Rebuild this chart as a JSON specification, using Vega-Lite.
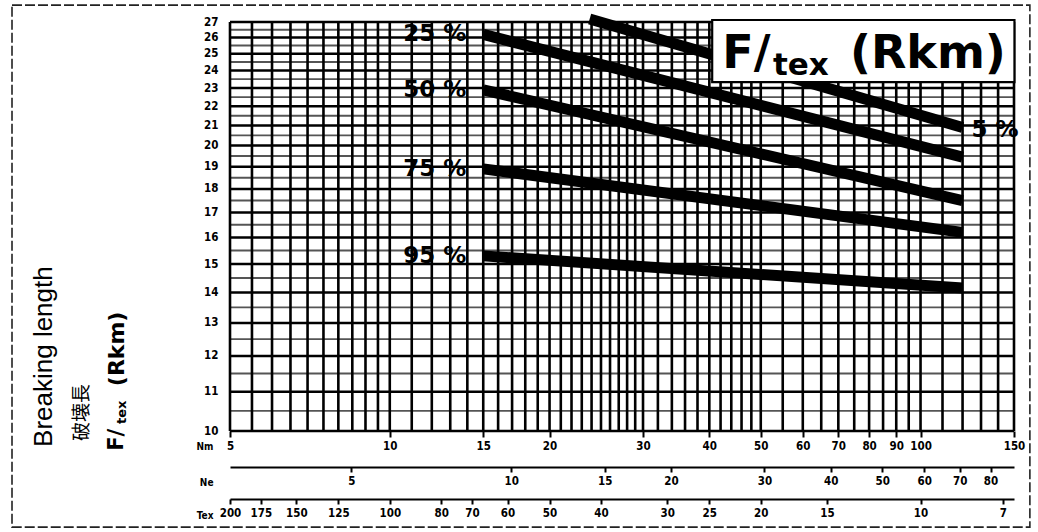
{
  "$schema": "https://vega.github.io/schema/vega-lite/v6.json",
  "width": 784,
  "height": 409,
  "autosize": {"type": "none"},
  "padding": {"left": 230, "top": 22, "right": 24, "bottom": 101},
  "background": "white",
  "config": {
    "view": {"stroke": null},
    "font": "Liberation Sans",
    "axis": {
      "labelFont": "DejaVu Sans Condensed, Liberation Sans Narrow, Liberation Sans",
      "labelFontSize": 11.5,
      "labelFontWeight": "bold",
      "labelColor": "black",
      "titleFont": "DejaVu Sans Condensed, Liberation Sans Narrow, Liberation Sans",
      "titleFontSize": 10,
      "titleFontWeight": "bold",
      "titleColor": "black"
    }
  },
  "datasets": {
    "vgrid": [
      {"Nm": 5}, {"Nm": 5.5}, {"Nm": 6}, {"Nm": 6.5}, {"Nm": 7}, {"Nm": 7.5}, {"Nm": 8}, {"Nm": 8.5}, {"Nm": 9}, {"Nm": 9.5},
      {"Nm": 10}, {"Nm": 11}, {"Nm": 12}, {"Nm": 13}, {"Nm": 14}, {"Nm": 15}, {"Nm": 16}, {"Nm": 17}, {"Nm": 18}, {"Nm": 19},
      {"Nm": 20}, {"Nm": 21}, {"Nm": 22}, {"Nm": 23}, {"Nm": 24}, {"Nm": 25}, {"Nm": 26}, {"Nm": 27}, {"Nm": 28}, {"Nm": 29},
      {"Nm": 30}, {"Nm": 32}, {"Nm": 34}, {"Nm": 36}, {"Nm": 38}, {"Nm": 40}, {"Nm": 42}, {"Nm": 44}, {"Nm": 46}, {"Nm": 48},
      {"Nm": 50}, {"Nm": 55}, {"Nm": 60}, {"Nm": 65}, {"Nm": 70}, {"Nm": 75}, {"Nm": 80}, {"Nm": 85}, {"Nm": 90}, {"Nm": 95},
      {"Nm": 100}, {"Nm": 110}, {"Nm": 120}, {"Nm": 130}, {"Nm": 140}, {"Nm": 150}
    ],
    "hmajor": [
      {"F": 10}, {"F": 11}, {"F": 12}, {"F": 13}, {"F": 14}, {"F": 15}, {"F": 16}, {"F": 17}, {"F": 18},
      {"F": 19}, {"F": 20}, {"F": 21}, {"F": 22}, {"F": 23}, {"F": 24}, {"F": 25}, {"F": 26}, {"F": 27}
    ],
    "hminor": [
      {"F": 10.5}, {"F": 11.5}, {"F": 12.5}, {"F": 13.5}, {"F": 14.5}, {"F": 15.5}, {"F": 16.5}, {"F": 17.5},
      {"F": 18.5}, {"F": 19.5}, {"F": 20.5}, {"F": 21.5}, {"F": 22.5}, {"F": 23.5}, {"F": 24.5}, {"F": 25.5}, {"F": 26.5}
    ],
    "curves": [
      {"p": "5 %", "Nm": 23.8, "F": 27.2},
      {"p": "5 %", "Nm": 120, "F": 20.9},
      {"p": "25 %", "Nm": 15, "F": 26.2},
      {"p": "25 %", "Nm": 120, "F": 19.45},
      {"p": "50 %", "Nm": 15, "F": 22.9},
      {"p": "50 %", "Nm": 120, "F": 17.5},
      {"p": "75 %", "Nm": 15, "F": 18.9},
      {"p": "75 %", "Nm": 120, "F": 16.2},
      {"p": "95 %", "Nm": 15, "F": 15.3},
      {"p": "95 %", "Nm": 120, "F": 14.15}
    ],
    "neTicks": [
      {"Ne": 5}, {"Ne": 10}, {"Ne": 15}, {"Ne": 20}, {"Ne": 30}, {"Ne": 40}, {"Ne": 50}, {"Ne": 60}, {"Ne": 70}, {"Ne": 80}
    ],
    "texTicks": [
      {"Tex": 200}, {"Tex": 175}, {"Tex": 150}, {"Tex": 125}, {"Tex": 100}, {"Tex": 80}, {"Tex": 70}, {"Tex": 60},
      {"Tex": 50}, {"Tex": 40}, {"Tex": 30}, {"Tex": 25}, {"Tex": 20}, {"Tex": 15}, {"Tex": 10}, {"Tex": 7}
    ]
  },
  "resolve": {"scale": {"x": "independent"}},
  "layer": [
    {
      "layer": [
        {
          "data": {"name": "hminor"},
          "mark": {"type": "rule", "stroke": "#555", "strokeWidth": 1.9},
          "encoding": {
            "y": {"field": "F", "type": "quantitative", "scale": {"type": "log", "domain": [10, 27], "nice": false},
              "axis": {"orient": "left", "values": [10, 11, 12, 13, 14, 15, 16, 17, 18, 19, 20, 21, 22, 23, 24, 25, 26, 27], "format": "d", "domain": false, "ticks": false, "grid": false, "labelPadding": 12, "labelOverlap": false, "labelFlush": false, "title": null}}
          }
        },
        {
          "data": {"name": "hmajor"},
          "mark": {"type": "rule", "stroke": "black", "strokeWidth": 2.5},
          "encoding": {
            "y": {"field": "F", "type": "quantitative", "scale": {"type": "log", "domain": [10, 27], "nice": false},
              "axis": {"orient": "left", "values": [10, 11, 12, 13, 14, 15, 16, 17, 18, 19, 20, 21, 22, 23, 24, 25, 26, 27], "format": "d", "domain": false, "ticks": false, "grid": false, "labelPadding": 12, "labelOverlap": false, "labelFlush": false, "title": null}}
          }
        },
        {
          "data": {"name": "vgrid"},
          "mark": {"type": "rule", "stroke": "black", "strokeWidth": 2.6},
          "encoding": {
            "x": {"field": "Nm", "type": "quantitative", "scale": {"type": "log", "domain": [5, 150], "nice": false},
              "axis": {"orient": "bottom", "values": [5, 10, 15, 20, 30, 40, 50, 60, 70, 80, 90, 100, 150], "format": "d", "domain": false, "grid": false, "ticks": true, "tickSize": 6, "tickWidth": 2, "tickColor": "black", "labelFlush": false, "labelOverlap": false, "labelPadding": 3, "title": "Nm", "titleAngle": 0, "titleAlign": "right", "titleBaseline": "middle", "titleX": -17, "titleY": 15}}
          }
        },
        {
          "data": {"name": "curves"},
          "mark": {"type": "line", "stroke": "black", "strokeWidth": 11, "strokeCap": "butt", "clip": false},
          "encoding": {
            "x": {"field": "Nm", "type": "quantitative", "scale": {"type": "log", "domain": [5, 150], "nice": false},
              "axis": {"orient": "bottom", "values": [5, 10, 15, 20, 30, 40, 50, 60, 70, 80, 90, 100, 150], "format": "d", "domain": false, "grid": false, "ticks": true, "tickSize": 6, "tickWidth": 2, "tickColor": "black", "labelFlush": false, "labelOverlap": false, "labelPadding": 3, "title": "Nm", "titleAngle": 0, "titleAlign": "right", "titleBaseline": "middle", "titleX": -17, "titleY": 15}},
            "y": {"field": "F", "type": "quantitative", "scale": {"type": "log", "domain": [10, 27], "nice": false},
              "axis": {"orient": "left", "values": [10, 11, 12, 13, 14, 15, 16, 17, 18, 19, 20, 21, 22, 23, 24, 25, 26, 27], "format": "d", "domain": false, "ticks": false, "grid": false, "labelPadding": 12, "labelOverlap": false, "labelFlush": false, "title": null}},
            "detail": {"field": "p"}
          }
        },
        {
          "data": {"name": "curves"},
          "transform": [{"filter": "datum.Nm == 15"}],
          "mark": {"type": "text", "font": "DejaVu Sans", "fontWeight": "bold", "fontSize": 23, "align": "right", "baseline": "middle", "dx": -17, "color": "black"},
          "encoding": {
            "x": {"field": "Nm", "type": "quantitative", "scale": {"type": "log", "domain": [5, 150], "nice": false},
              "axis": {"orient": "bottom", "values": [5, 10, 15, 20, 30, 40, 50, 60, 70, 80, 90, 100, 150], "format": "d", "domain": false, "grid": false, "ticks": true, "tickSize": 6, "tickWidth": 2, "tickColor": "black", "labelFlush": false, "labelOverlap": false, "labelPadding": 3, "title": "Nm", "titleAngle": 0, "titleAlign": "right", "titleBaseline": "middle", "titleX": -17, "titleY": 15}},
            "y": {"field": "F", "type": "quantitative", "scale": {"type": "log", "domain": [10, 27], "nice": false},
              "axis": {"orient": "left", "values": [10, 11, 12, 13, 14, 15, 16, 17, 18, 19, 20, 21, 22, 23, 24, 25, 26, 27], "format": "d", "domain": false, "ticks": false, "grid": false, "labelPadding": 12, "labelOverlap": false, "labelFlush": false, "title": null}},
            "text": {"field": "p"}
          }
        },
        {
          "data": {"name": "curves"},
          "transform": [{"filter": "datum.p == '5 %' && datum.Nm == 120"}],
          "mark": {"type": "text", "font": "DejaVu Sans", "fontWeight": "bold", "fontSize": 23, "align": "left", "baseline": "middle", "dx": 9, "dy": 3, "color": "black"},
          "encoding": {
            "x": {"field": "Nm", "type": "quantitative", "scale": {"type": "log", "domain": [5, 150], "nice": false},
              "axis": {"orient": "bottom", "values": [5, 10, 15, 20, 30, 40, 50, 60, 70, 80, 90, 100, 150], "format": "d", "domain": false, "grid": false, "ticks": true, "tickSize": 6, "tickWidth": 2, "tickColor": "black", "labelFlush": false, "labelOverlap": false, "labelPadding": 3, "title": "Nm", "titleAngle": 0, "titleAlign": "right", "titleBaseline": "middle", "titleX": -17, "titleY": 15}},
            "y": {"field": "F", "type": "quantitative", "scale": {"type": "log", "domain": [10, 27], "nice": false},
              "axis": {"orient": "left", "values": [10, 11, 12, 13, 14, 15, 16, 17, 18, 19, 20, 21, 22, 23, 24, 25, 26, 27], "format": "d", "domain": false, "ticks": false, "grid": false, "labelPadding": 12, "labelOverlap": false, "labelFlush": false, "title": null}},
            "text": {"field": "p"}
          }
        }
      ]
    },
    {
      "data": {"values": [{}]},
      "layer": [
        {
          "mark": {"type": "rect", "fill": "transparent", "stroke": "#222", "strokeWidth": 1.6, "strokeDash": [10, 3], "clip": false},
          "encoding": {
            "x": {"datum": 1.942, "type": "quantitative", "scale": {"type": "log", "domain": [5, 150], "nice": false}, "axis": null},
            "x2": {"datum": 160.7},
            "y": {"datum": 28.13, "type": "quantitative"},
            "y2": {"datum": 7.919}
          }
        },
        {
          "mark": {"type": "rect", "fill": "white", "stroke": "black", "strokeWidth": 2.2, "clip": false},
          "encoding": {
            "x": {"datum": 40.5, "type": "quantitative"},
            "x2": {"datum": 150.3},
            "y": {"datum": 27.13, "type": "quantitative"},
            "y2": {"datum": 23.33}
          }
        },
        {
          "mark": {"type": "text", "text": "F/", "font": "DejaVu Sans", "fontWeight": "bold", "fontSize": 46, "align": "left", "baseline": "alphabetic", "color": "black"},
          "encoding": {
            "x": {"datum": 42.3, "type": "quantitative"},
            "y": {"datum": 24.15, "type": "quantitative"}
          }
        },
        {
          "mark": {"type": "text", "text": "tex", "font": "DejaVu Sans", "fontWeight": "bold", "fontSize": 31, "align": "left", "baseline": "alphabetic", "color": "black"},
          "encoding": {
            "x": {"datum": 52.7, "type": "quantitative"},
            "y": {"datum": 23.74, "type": "quantitative"}
          }
        },
        {
          "mark": {"type": "text", "text": "(Rkm)", "font": "DejaVu Sans", "fontWeight": "bold", "fontSize": 46, "align": "left", "baseline": "alphabetic", "color": "black"},
          "encoding": {
            "x": {"datum": 73.6, "type": "quantitative"},
            "y": {"datum": 24.15, "type": "quantitative"}
          }
        },
        {
          "mark": {"type": "text", "text": "Breaking length", "font": "Liberation Sans", "fontSize": 26, "angle": 270, "align": "left", "baseline": "middle", "color": "black"},
          "encoding": {
            "x": {"datum": 2.23, "type": "quantitative"},
            "y": {"datum": 9.62, "type": "quantitative"}
          }
        },
        {
          "mark": {"type": "text", "text": "破壊長", "font": "Noto Sans CJK JP", "fontSize": 19, "angle": 270, "align": "left", "baseline": "middle", "color": "black"},
          "encoding": {
            "x": {"datum": 2.63, "type": "quantitative"},
            "y": {"datum": 9.76, "type": "quantitative"}
          }
        },
        {
          "mark": {"type": "text", "text": "F/", "font": "DejaVu Sans", "fontWeight": "bold", "fontSize": 21, "angle": 270, "align": "left", "baseline": "middle", "color": "black"},
          "encoding": {
            "x": {"datum": 3.06, "type": "quantitative"},
            "y": {"datum": 9.53, "type": "quantitative"}
          }
        },
        {
          "mark": {"type": "text", "text": "tex", "font": "DejaVu Sans", "fontWeight": "bold", "fontSize": 13, "angle": 270, "align": "left", "baseline": "middle", "color": "black"},
          "encoding": {
            "x": {"datum": 3.13, "type": "quantitative"},
            "y": {"datum": 10.17, "type": "quantitative"}
          }
        },
        {
          "mark": {"type": "text", "text": "(Rkm)", "font": "DejaVu Sans", "fontWeight": "bold", "fontSize": 22, "angle": 270, "align": "left", "baseline": "middle", "color": "black"},
          "encoding": {
            "x": {"datum": 3.06, "type": "quantitative"},
            "y": {"datum": 11.15, "type": "quantitative"}
          }
        }
      ]
    },
    {
      "data": {"name": "neTicks"},
      "mark": {"type": "point", "opacity": 0},
      "encoding": {
        "x": {
          "field": "Ne", "type": "quantitative",
          "scale": {"type": "log", "domain": [2.9526, 88.58], "nice": false},
          "axis": {
            "orient": "bottom", "offset": 36,
            "values": [5, 10, 15, 20, 30, 40, 50, 60, 70, 80],
            "format": "d",
            "domain": true, "domainColor": "black", "domainWidth": 2,
            "ticks": true, "tickSize": 5, "tickWidth": 2, "tickColor": "black",
            "grid": false,
            "labelFlush": false, "labelOverlap": false, "labelPadding": 3,
            "title": "Ne", "titleAngle": 0, "titleAlign": "right", "titleBaseline": "middle",
            "titleX": -17, "titleY": 15
          }
        }
      }
    },
    {
      "data": {"name": "texTicks"},
      "mark": {"type": "point", "opacity": 0},
      "encoding": {
        "x": {
          "field": "Tex", "type": "quantitative",
          "scale": {"type": "log", "domain": [6.6667, 200], "reverse": true, "nice": false},
          "axis": {
            "orient": "bottom", "offset": 68,
            "values": [200, 175, 150, 125, 100, 80, 70, 60, 50, 40, 30, 25, 20, 15, 10, 7],
            "format": "d",
            "domain": true, "domainColor": "black", "domainWidth": 2,
            "ticks": true, "tickSize": 5, "tickWidth": 2, "tickColor": "black",
            "grid": false,
            "labelFlush": false, "labelOverlap": false, "labelPadding": 3,
            "title": "Tex", "titleAngle": 0, "titleAlign": "right", "titleBaseline": "middle",
            "titleX": -17, "titleY": 16
          }
        }
      }
    }
  ]
}
